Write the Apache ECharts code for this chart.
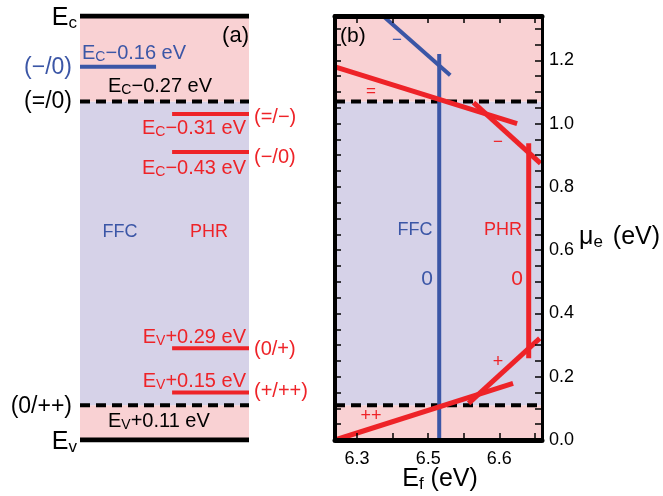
<!DOCTYPE html>
<html><head><meta charset="utf-8">
<script src="https://cdn.jsdelivr.net/npm/echarts@6/dist/echarts.min.js"></script>
<style>html,body{margin:0;padding:0;background:#fff}#c{width:663px;height:496px}</style>
</head><body><div id="c"></div>
<script>
// ---------- data ----------
const gapTop = 1.34;                 // E_c relative to E_v (eV)
const bandEdges = [0, 0.11, 1.07, 1.34];
const dashedLevels = [1.07, 0.11];   // (=/0) and (0/++)
const ffcLevels = [1.18];            // FFC (−/0)
const phrLevels = [1.03, 0.91, 0.29, 0.15]; // PHR (=/−), (−/0), (0/+), (+/++)

// panel (b): formation-energy segments [Ef, mu_e]
const ffcMinus = [[6.4366, 1.34], [6.531, 1.1525]];
const ffcZero = [[6.5155, 1.22], [6.5155, 0.0]];
const phrDouble = [[6.369, 1.179], [6.625, 1.0]];
const phrMinus = [[6.5638, 1.066], [6.658, 0.874]];
const phrZero = [[6.6413, 0.938], [6.6413, 0.258]];
const phrPlus = [[6.5568, 0.116], [6.6568, 0.321]];
const phrPlusPlus = [[6.369, 0.0], [6.6193, 0.179]];

const xTickValues = [6.4, 6.5, 6.6];
const xTickLabels = ['6.3', '6.5', '6.6'];
const xTickMarks = [6.4, 6.45, 6.5, 6.55, 6.6, 6.65];
const yTickValues = [0, 0.2, 0.4, 0.6, 0.8, 1.0, 1.2];
const yTickMarks = [0,0.05,0.1,0.15,0.2,0.25,0.3,0.35,0.4,0.45,0.5,0.55,0.6,0.65,0.7,0.75,0.8,0.85,0.9,0.95,1.0,1.05,1.1,1.15,1.2,1.25,1.3];

// ---------- style ----------
const PINK = '#F9D1D3', LAV = '#D6D2E8', BLUE = '#3B56A6', RED = '#EE2328', BLACK = '#000';
const FONT = '"Liberation Sans", Arial, Helvetica, sans-serif';

const chart = echarts.init(document.getElementById('c'), null, {renderer: 'canvas'});

function bandAreas() {
  const cols = [PINK, LAV, PINK];
  const out = [];
  for (let i = 0; i < 3; i++) {
    out.push([{yAxis: bandEdges[i], itemStyle: {color: cols[i]}}, {yAxis: bandEdges[i + 1]}]);
  }
  return out;
}

function seg(data, color, width, xi, yi, type) {
  return {type: 'line', data: data, xAxisIndex: xi, yAxisIndex: yi, symbol: 'none', silent: true,
    lineStyle: {color: color, width: width, type: type || 'solid', cap: 'butt'}, z: 3, clip: true, animation: false};
}

const series = [];
// backgrounds
series.push({type: 'line', data: [], xAxisIndex: 0, yAxisIndex: 0, z: 1,
  markArea: {silent: true, data: bandAreas()}});
series.push({type: 'line', data: [], xAxisIndex: 1, yAxisIndex: 1, z: 1,
  markArea: {silent: true, data: bandAreas()}});
// panel (a)
series.push(seg([[0, gapTop], [1, gapTop]], BLACK, 5, 0, 0));
series.push(seg([[0, 0], [1, 0]], BLACK, 5, 0, 0));
dashedLevels.forEach(v => series.push(seg([[0, v], [1, v]], BLACK, 4, 0, 0, [10, 6])));
ffcLevels.forEach(v => series.push(seg([[0, v], [0.45, v]], BLUE, 4, 0, 0)));
phrLevels.forEach(v => series.push(seg([[0.545, v], [1, v]], RED, 4, 0, 0)));
// panel (b)
dashedLevels.forEach(v => series.push(seg([[6.369, v], [6.66, v]], BLACK, 4, 1, 1, [10, 6])));
series.push(seg(ffcMinus, BLUE, 4, 1, 1));
series.push(seg(ffcZero, BLUE, 4, 1, 1));
series.push(seg(phrDouble, RED, 5, 1, 1));
series.push(seg(phrMinus, RED, 5, 1, 1));
series.push(seg(phrZero, RED, 5, 1, 1));
series.push(seg(phrPlus, RED, 5, 1, 1));
series.push(seg(phrPlusPlus, RED, 5, 1, 1));

// ---------- annotations ----------
function t(x, y, text, color, size, align, subSize) {
  const ss = subSize || Math.round(size * 0.68);
  return {type: 'text', x: x, y: y, z: 50, silent: true,
    style: {text: text, fill: color, font: size + 'px ' + FONT,
      align: align || 'left', verticalAlign: 'middle', textAlign: align || 'left', textVerticalAlign: 'middle',
      rich: {
        m: {fontSize: size, fontFamily: FONT, fill: color, color: color, lineHeight: size + 2, verticalAlign: 'middle'},
        s: {fontSize: ss, fontFamily: FONT, fill: color, color: color, lineHeight: ss, verticalAlign: 'bottom'},
        g: {fontSize: size, width: 10, lineHeight: size + 2}
      }}};
}
const graphics = [
  t(77, 18, '{m|E}{s|c}', BLACK, 25, 'right', 17),
  t(77, 442, '{m|E}{s|v}', BLACK, 25, 'right', 17),
  t(249, 36, '(a)', BLACK, 22, 'right'),
  t(82, 53, '{m|E}{s|C}{m|−0.16 eV}', BLUE, 20, 'left', 14),
  t(72, 68, '(−/0)', BLUE, 23, 'right'),
  t(108, 86, '{m|E}{s|C}{m|−0.27 eV}', BLACK, 20, 'left', 14),
  t(72, 102, '(=/0)', BLACK, 23, 'right'),
  t(246, 128, '{m|E}{s|C}{m|−0.31 eV}', RED, 20, 'right', 14),
  t(254, 117, '(=/−)', RED, 20, 'left'),
  t(246, 168, '{m|E}{s|C}{m|−0.43 eV}', RED, 20, 'right', 14),
  t(254, 157, '(−/0)', RED, 20, 'left'),
  t(120, 232, 'FFC', BLUE, 18, 'center'),
  t(209, 232, 'PHR', RED, 18, 'center'),
  t(246, 337, '{m|E}{s|V}{m|+0.29 eV}', RED, 20, 'right', 14),
  t(254, 349, '(0/+)', RED, 20, 'left'),
  t(246, 381, '{m|E}{s|V}{m|+0.15 eV}', RED, 20, 'right', 14),
  t(254, 391, '(+/++)', RED, 20, 'left'),
  t(72, 407, '(0/++)', BLACK, 23, 'right'),
  t(108, 421, '{m|E}{s|V}{m|+0.11 eV}', BLACK, 20, 'left', 14),
  // panel (b)
  t(340, 36, '(b)', BLACK, 21, 'left'),
  t(397, 40, '−', BLUE, 17, 'center'),
  t(371, 91, '=', RED, 17, 'center'),
  t(498, 142, '−', RED, 17, 'center'),
  t(415, 230, 'FFC', BLUE, 18, 'center'),
  t(503, 230, 'PHR', RED, 18, 'center'),
  t(427, 279, '0', BLUE, 21, 'center'),
  t(517, 279, '0', RED, 21, 'center'),
  t(498, 362, '+', RED, 18, 'center'),
  t(371, 416, '++', RED, 18, 'center'),
  // axis titles
  t(579, 237, '{m|μ}{s|e}{g|}{m|(eV)}', BLACK, 25, 'left', 17),
  t(440, 479, '{m|E}{s|f}{m| (eV)}', BLACK, 25, 'center', 17)
];

const option = {
  animation: false,
  backgroundColor: '#fff',
  grid: [
    {left: 80, top: 16, width: 169, height: 424},
    {left: 335, top: 16, width: 207, height: 424}
  ],
  xAxis: [
    {gridIndex: 0, type: 'value', min: 0, max: 1, show: false},
    {gridIndex: 1, type: 'value', min: 6.369, max: 6.66, position: 'bottom', z: 10,
      axisLine: {show: true, onZero: false, lineStyle: {color: BLACK, width: 5}},
      axisTick: {show: true, inside: true, length: 7, customValues: xTickMarks, lineStyle: {color: BLACK, width: 1.5}},
      axisLabel: {show: true, customValues: xTickValues, margin: 10, color: BLACK, fontSize: 18, fontFamily: FONT,
        formatter: v => { const i = xTickValues.findIndex(a => Math.abs(a - v) < 1e-6); return i >= 0 ? xTickLabels[i] : ''; }},
      splitLine: {show: false}},
    {gridIndex: 1, type: 'value', min: 6.369, max: 6.66, position: 'top', z: 10,
      axisLine: {show: true, onZero: false, lineStyle: {color: BLACK, width: 5}},
      axisTick: {show: true, inside: true, length: 7, customValues: xTickMarks, lineStyle: {color: BLACK, width: 1.5}},
      axisLabel: {show: false}, splitLine: {show: false}}
  ],
  yAxis: [
    {gridIndex: 0, type: 'value', min: 0, max: 1.34, show: false},
    {gridIndex: 1, type: 'value', min: 0, max: 1.34, position: 'right', z: 10,
      axisLine: {show: true, onZero: false, lineStyle: {color: BLACK, width: 3}},
      axisTick: {show: true, inside: true, length: 7, customValues: yTickMarks, lineStyle: {color: BLACK, width: 1.5}},
      axisLabel: {show: true, customValues: yTickValues, margin: 7, color: BLACK, fontSize: 18, fontFamily: FONT,
        formatter: v => v.toFixed(1)},
      splitLine: {show: false}},
    {gridIndex: 1, type: 'value', min: 0, max: 1.34, position: 'left', z: 10,
      axisLine: {show: true, onZero: false, lineStyle: {color: BLACK, width: 4}},
      axisTick: {show: true, inside: true, length: 6, customValues: yTickMarks, lineStyle: {color: BLACK, width: 1.5}},
      axisLabel: {show: false}, splitLine: {show: false}}
  ],
  series: series,
  graphic: graphics
};
chart.setOption(option);
</script></body></html>
